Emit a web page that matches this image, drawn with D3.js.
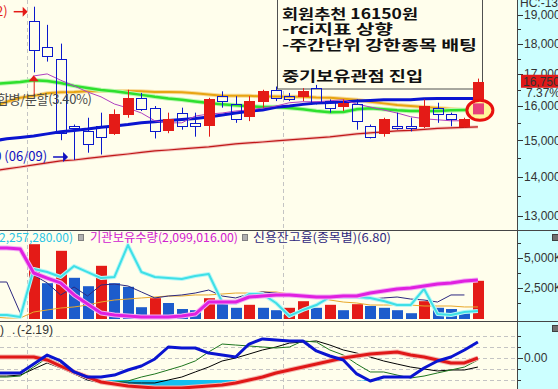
<!DOCTYPE html>
<html>
<head>
<meta charset="utf-8">
<script src="https://cdn.jsdelivr.net/npm/d3@7"></script>
<style>
  html, body { margin:0; padding:0; background:#fffeec; overflow:hidden; }
  svg { display:block; }
  .ax { font-family:"Liberation Sans", Arial, sans-serif; font-size:12px; fill:#333; }
  .kr { font-family:"Noto Sans CJK KR", sans-serif; }
</style>
</head>
<body>
<div id="mydraw"></div>
<script>

///////////////////////////////////////////////
// data

// daily candles (won), 34 sessions
var opens  = [18800,17900,17500,15400,15250,15400,15200,15750,16250,15950,15300,15800,15500,15450,16300,16050,15700,16150,16500,16300,16300,16550,16150,16000,16050,15400,15200,15400,15400,15400,15950,15750,15400,15750];
var highs  = [19300,18650,18000,15450,15650,15800,15900,16500,16400,16000,15800,15950,15800,16250,16450,16300,16300,16500,16600,16400,16550,16650,16200,16200,16200,15450,15650,15800,15650,16200,16100,15800,15650,16850];
var lows   = [17050,17400,15000,14450,14650,14600,15150,15650,15850,15050,15200,15300,15100,15100,15950,15500,15550,15950,16150,16150,16150,16050,15800,15850,15300,15050,15100,15300,15250,15350,15500,15400,15350,15700];
var closes = [17800,17600,15200,15350,14900,15100,15750,16250,15900,15250,15600,15400,15400,16200,16150,15600,16150,16450,16250,16200,16450,16100,15950,16100,15550,15100,15600,15350,15350,16000,15750,15600,15600,16750];

// volume, thousands of shares
var volumes = [6150,2900,5600,3350,2650,4350,2900,2600,900,1650,1250,750,650,1650,1250,850,1100,850,650,850,1400,850,1100,650,1150,1000,850,650,400,1400,850,750,400,3100];

// sessions where a new month starts (dashed separators)
var monthStarts = [0, 19];

// overlay lines begin 3 sessions before the first candle
var lineStart = -3;
var maShort  = [16935,17000,16800,16620,16430,16280,16060,15940,15790,15560,15500,15500,15700,15760,15790,15850,15880,15940,16000,16100,16130,16130,16160,16190,16060,15970,15880,15790,15680,15620,15590,15560,15560]; // starts at session 0
var maOrange = [15970,16130,16250,16310,16390,16420,16430,16450,16460,16460,16460,16450,16430,16430,16420,16390,16350,16310,16310,16310,16290,16290,16280,16280,16260,16250,16220,16190,16130,16080,16030,16000,15970,15940,15910,15880,15880];
var maGreen  = [16680,16710,16745,16800,16775,16710,16620,16555,16490,16450,16400,16340,16280,16230,16190,16140,16095,16050,16020,15990,15970,15970,15940,15900,15850,15810,15820,15900,15930,15900,15870,15850,15850,15850,15870,15880,15880];
var maBlue   = [14980,15040,15080,15120,15180,15240,15280,15320,15370,15410,15450,15500,15530,15570,15600,15630,15675,15730,15790,15840,15880,15960,16000,16050,16095,16110,16125,16155,16170,16190,16190,16190,16220,16230,16230,16230,16230];
var trendRed = [14155,14210,14260,14315,14370,14425,14450,14495,14535,14575,14615,14660,14700,14725,14755,14785,14810,14855,14895,14925,14950,14980,15010,15035,15065,15095,15135,15180,15210,15235,15265,15280,15310,15340,15355,15365,15380];

// volume pane overlays (thousands)
var volCyan    = [250,250,80,4080,3830,3420,4330,3830,3330,3420,6080,3830,3420,3330,3250,3500,3670,1330,1250,2000,2000,1250,170,670,1080,1750,1750,1750,1670,1420,1080,1080,2420,330,250,500,580];
var volMagenta = [5830,5830,5750,3750,3330,2920,1920,1170,420,250,170,80,80,80,170,330,1330,1330,1330,1750,1830,1920,1920,1830,1750,1750,1830,1830,2080,2250,2420,2500,2670,2830,2920,3080,3170];
var volNavy    = [3000,3000,420,3580,2920,1920,2580,1830,2750,2830,2670,2170,1670,1830,1920,2080,2330,1830,1670,2000,2170,2080,1830,1750,1750,1750,1750,1670,1580,1670,1750,1580,1500,1330,1920,1920];
var volOrange  = [80,0,0,500,670,830,920,1080,1330,1500,1580,1670,1750,1830,1830,1920,1920,2000,2080,2080,2170,2170,2000,1920,1750,1500,1330,1250,1080,1080,1080,1080,1000,1000,1000,920,920];

// bottom indicator pane
var indBlue  = [-1.36,-1.36,-1.36,-0.55,0.27,-0.27,-1.27,-1.73,-1.73,-1.55,-1.09,-0.73,-0.09,1.00,0.91,0.91,0.45,0.27,0.09,1.27,1.73,1.64,1.55,1.55,0.64,0.18,-0.18,-1.45,-2.09,-1.73,-1.73,-1.73,-0.91,-0.27,0.09,0.73,1.45];
var indRed   = [0.09,0.09,0.09,0.09,-0.18,-0.73,-1.27,-1.73,-2.18,-2.36,-2.55,-2.64,-2.73,-2.73,-2.73,-2.64,-2.55,-2.45,-2.27,-2.00,-1.73,-1.36,-1.09,-0.82,-0.55,-0.27,0.00,0.18,0.36,0.45,0.55,0.27,0.09,-0.18,-0.45,-0.45,0.00];
var indGreen = [-1.73,-1.73,-1.64,-0.82,0.00,-0.55,-1.27,-1.73,-2.18,-2.18,-2.09,-1.73,-1.45,-1.09,-0.73,-0.27,0.55,1.27,1.18,1.09,1.00,0.91,1.00,1.55,1.45,0.73,0.27,-0.55,-1.27,-1.27,-1.55,-1.82,-1.64,-1.36,-1.09,-0.82,-0.18];
var indBlack = [-1.64,-1.64,-1.55,-1.00,-0.45,-0.91,-1.45,-2.00,-2.27,-2.27,-2.27,-2.27,-2.27,-2.00,-1.73,-1.27,-0.82,-0.27,0.00,0.36,0.73,1.00,1.36,1.45,1.55,1.18,0.73,0.45,0.09,-0.27,-0.55,-0.82,-1.00,-1.18,-1.09,-1.09,-0.82];
var oversold = -2;

// axis ticks
var priceTicks = [13000,14000,15000,16000,17000,18000,19000];
var priceMinor = [13500,14500,15500,16500,17500,18500];
var volTicks = [2500, 5000];
var volMinor = [1250, 3750, 6250];
var indTicks = [0];
var indMinor = [-2,-1,1,2];

// texts
var memo = ["회원추천 16150원", "-rci지표 상향", "-주간단위 강한종목 배팅", "", "중기보유관점 진입"];
var changePct = 7.37;
var splitLabel = "합병/분할(3.40%)";
var volLegend = ["(2,257,280.00)", "기관보유수량(2,099,016.00)", "신용잔고율(종목별)(6.80)"];
var indLegend = ["0)", ".", "(-2.19)"];


///////////////////////////////////////////////
// layout

var W = 558, H = 389;
var axisX = 518;
var bg = "#fffeec";
var RED = "#e41b17", BLUE = "#0a18cc", VBLUE = "#1c5ccc";

var pricePane = {top: 0, bottom: 230};
var volPane   = {top: 230, bottom: 321};
var indPane   = {top: 321, bottom: 389};

var x  = d3.scaleLinear().domain([0, 33]).range([33.7, 477.9]);
var y  = d3.scaleLog().domain([13000, 19000]).range([216, 15]);
var yv = d3.scaleLinear().domain([0, 5000]).range([318, 258]);
var yi = d3.scaleLinear().domain([-2, 2]).range([380, 336]);

var svg = d3.select("div#mydraw").append("svg")
    .attr("width", W)
    .attr("height", H);

svg.append("rect").attr("width", W).attr("height", H).attr("fill", bg);
svg.append("rect").attr("x", axisX).attr("width", W - axisX).attr("height", H).attr("fill", "#ccffff");

var defs = svg.append("defs");
[["cP", pricePane], ["cV", volPane], ["cI", indPane]].forEach(function(c) {
    defs.append("clipPath").attr("id", c[0]).append("rect")
        .attr("x", 0).attr("y", c[1].top)
        .attr("width", axisX).attr("height", c[1].bottom - c[1].top);
});

// month separators
monthStarts.forEach(function(m) {
    var mx = Math.round(x(m - 0.5)) + 0.5;
    svg.append("line")
        .attr("x1", mx).attr("x2", mx).attr("y1", 0).attr("y2", H)
        .attr("stroke", "#c4c4c4").attr("stroke-dasharray", "4,3");
});

var gP = svg.append("g").attr("clip-path", "url(#cP)");
var gV = svg.append("g").attr("clip-path", "url(#cV)");
var gI = svg.append("g").attr("clip-path", "url(#cI)");

function series(vals, start) {
    return vals.map(function(v, k) { return {i: k + start, v: v}; });
}

function drawLine(g, vals, start, sc, color, w, halo) {
    var ln = d3.line()
        .x(function(d) { return x(d.i); })
        .y(function(d) { return sc(d.v); });
    var path = ln(series(vals, start));
    if (halo) {
        g.append("path").attr("d", path).attr("fill", "none")
            .attr("stroke", halo).attr("stroke-width", w + 2).attr("stroke-linejoin", "round");
    }
    g.append("path").attr("d", path).attr("fill", "none")
        .attr("stroke", color).attr("stroke-width", w).attr("stroke-linejoin", "round");
}


// ---------------
// price pane

drawLine(gP, trendRed, lineStart, y, "#c01818", 1.2, "#f4c8c0");
drawLine(gP, maOrange, lineStart, y, "#e8a412", 2, "#f8dc9c");
drawLine(gP, maGreen,  lineStart, y, "#2ee02e", 2.5, "#bdf7b0");
drawLine(gP, maBlue,   lineStart, y, "#0a14d0", 3, null);
drawLine(gP, maShort,  0,         y, "#b040c0", 1, null);

// memo box
var box = gP.append("g");
box.append("rect")
    .attr("x", 277.5).attr("y", -1).attr("width", 205).attr("height", 90)
    .attr("fill", bg).attr("stroke", "#505050");
var memoY = [19, 34, 50, 65, 81];
var memoLen = [136, 111, 195, 0, 141];
memo.forEach(function(t, k) {
    if (!t) return;
    box.append("text").attr("class", "kr")
        .attr("x", 282).attr("y", memoY[k])
        .attr("font-size", 14).attr("font-weight", "bold").attr("fill", "#111")
        .attr("textLength", memoLen[k]).attr("lengthAdjust", "spacingAndGlyphs")
        .text(t);
});

// candles
var candles = opens.map(function(o, i) {
    return {i: i, o: o, h: highs[i], l: lows[i], c: closes[i]};
});
candles.forEach(function(d) {
    var cx = Math.round(x(d.i));
    var up = d.c >= d.o;
    var col = up ? RED : BLUE;
    var top = Math.round(y(Math.max(d.o, d.c)));
    var bot = Math.round(y(Math.min(d.o, d.c)));
    gP.append("line")
        .attr("x1", cx + 0.5).attr("x2", cx + 0.5)
        .attr("y1", y(d.h)).attr("y2", top)
        .attr("stroke", col);
    gP.append("line")
        .attr("x1", cx + 0.5).attr("x2", cx + 0.5)
        .attr("y1", bot).attr("y2", y(d.l))
        .attr("stroke", col);
    if (up) {
        gP.append("rect")
            .attr("x", cx - 5).attr("y", top)
            .attr("width", 11).attr("height", Math.max(2, bot - top + 1))
            .attr("fill", col);
    } else {
        gP.append("rect")
            .attr("x", cx - 4.5).attr("y", top + 0.5)
            .attr("width", 10).attr("height", Math.max(1, bot - top))
            .attr("fill", "none").attr("stroke", col);
    }
});

// highlight on the last session
var last = candles[candles.length - 1];
var hx = x(last.i) + 2, hy = y(last.o) - 4;
gP.append("ellipse")
    .attr("cx", hx).attr("cy", hy).attr("rx", 13).attr("ry", 10)
    .attr("fill", "#fff59a").attr("stroke", "#e81010").attr("stroke-width", 3);
gP.append("rect")
    .attr("x", Math.round(x(last.i)) - 5).attr("y", hy - 7)
    .attr("width", 11).attr("height", y(last.o) - hy + 7)
    .attr("fill", "#e8407a");

// high / low markers
var iHigh = d3.maxIndex(highs), iLow = d3.minIndex(lows);
var hiY = y(highs[iHigh]) + 5, loY = y(lows[iLow]) - 3;
gP.append("text").attr("class", "kr")
    .attr("x", x(iHigh) - 26).attr("y", hiY + 4).attr("text-anchor", "end")
    .attr("font-size", 13).attr("fill", RED)
    .text(d3.format(",")(highs[iHigh]) + " (06/02)");
gP.append("line")
    .attr("x1", x(iHigh) - 20).attr("x2", x(iHigh) - 9)
    .attr("y1", hiY).attr("y2", hiY).attr("stroke", RED).attr("stroke-width", 1.5);
gP.append("path")
    .attr("d", "M" + (x(iHigh) - 6) + "," + hiY + " l-5,-5 l0,10 z").attr("fill", RED);

gP.append("text").attr("class", "kr")
    .attr("x", x(iLow) - 27).attr("y", loY + 4).attr("text-anchor", "end")
    .attr("font-size", 13).attr("fill", "#1010c0")
    .text(d3.format(",")(lows[iLow]) + " (06/09)");
gP.append("line")
    .attr("x1", x(iLow) - 21).attr("x2", x(iLow) - 10)
    .attr("y1", loY).attr("y2", loY).attr("stroke", "#1010c0").attr("stroke-width", 1.5);
gP.append("path")
    .attr("d", "M" + (x(iLow) - 6) + "," + loY + " l-5,-5 l0,10 z").attr("fill", "#1010c0");

// split / merge marker under the first session
var sy = y(lows[0]) + 3;
gP.append("path")
    .attr("d", "M" + x(0) + "," + sy + " l-5,6 l10,0 z").attr("fill", RED);
gP.append("line")
    .attr("x1", x(0) + 0.5).attr("x2", x(0) + 0.5)
    .attr("y1", sy + 6).attr("y2", sy + 21).attr("stroke", RED);
gP.append("text").attr("class", "kr")
    .attr("x", -3).attr("y", 104)
    .attr("font-size", 13).attr("fill", "#4a4a4a")
    .attr("textLength", 95).attr("lengthAdjust", "spacing")
    .text(splitLabel);


// ---------------
// volume pane

volumes.forEach(function(v, i) {
    var upVol = i === 0 || v >= volumes[i - 1];
    gV.append("rect")
        .attr("x", Math.round(x(i)) - 5).attr("y", yv(v))
        .attr("width", 11).attr("height", yv(0) - yv(v) + 1)
        .attr("fill", upVol ? RED : VBLUE);
});

drawLine(gV, volOrange,  lineStart, yv, "#e8a82a", 1, null);
drawLine(gV, volNavy,    lineStart, yv, "#2c2880", 1, null);
drawLine(gV, volCyan,    lineStart, yv, "#3ee0e6", 2, "#b8f6f6");
drawLine(gV, volMagenta, lineStart, yv, "#e020e0", 3, "#f2b0f2");

var legY = 242;
svg.append("text").attr("class", "kr")
    .attr("x", 73).attr("y", legY).attr("text-anchor", "end")
    .attr("font-size", 12).attr("fill", "#28c4e4")
    .text(volLegend[0]);
[78, 242].forEach(function(sx) {
    svg.append("rect").attr("x", sx + 0.5).attr("y", 234.5).attr("width", 5).attr("height", 6)
        .attr("fill", "#b0b0b0").attr("stroke", "#808080");
});
svg.append("text").attr("class", "kr")
    .attr("x", 90).attr("y", legY).attr("font-size", 12).attr("fill", "#d020d0")
    .attr("textLength", 148).attr("lengthAdjust", "spacingAndGlyphs")
    .text(volLegend[1]);
svg.append("text").attr("class", "kr")
    .attr("x", 253).attr("y", legY).attr("font-size", 12).attr("fill", "#302880")
    .attr("textLength", 138).attr("lengthAdjust", "spacingAndGlyphs")
    .text(volLegend[2]);


// ---------------
// indicator pane

[-2, -1, 0, 1, 2].forEach(function(v) {
    var gy = Math.round(yi(v)) + 0.5;
    gI.append("line").attr("x1", 0).attr("x2", axisX).attr("y1", gy).attr("y2", gy)
        .attr("stroke", "#c4c4c4").attr("stroke-dasharray", "4,3");
});

// oversold fill
var area = d3.area()
    .x(function(d) { return x(d.i); })
    .y0(yi(oversold))
    .y1(function(d) { return yi(Math.min(d.v, oversold)); });
[indRed, indBlack, indBlue].forEach(function(s) {
    gI.append("path").attr("d", area(series(s, lineStart)))
        .attr("fill", "#12c0f0");
});

drawLine(gI, indBlack, lineStart, yi, "#000000", 1, null);
drawLine(gI, indGreen, lineStart, yi, "#1e761e", 1, null);
drawLine(gI, indRed,   lineStart, yi, "#e01818", 3, "#f4b8b0");
drawLine(gI, indBlue,  lineStart, yi, "#0a14d0", 3, null);

svg.append("text").attr("class", "ax")
    .attr("x", 4).attr("y", 334).attr("text-anchor", "end").attr("fill", "#2020a0")
    .text(indLegend[0]);
svg.append("text").attr("class", "ax")
    .attr("x", 12).attr("y", 334).attr("fill", "#333")
    .text(indLegend[1]);
svg.append("text").attr("class", "ax")
    .attr("x", 17).attr("y", 334).attr("fill", "#c81818")
    .attr("textLength", 36).attr("lengthAdjust", "spacingAndGlyphs")
    .text(indLegend[2]);


// ---------------
// right axis

var ax = svg.append("g");
function tickMarks(vals, sc, len) {
    vals.forEach(function(v) {
        var ty = Math.round(sc(v)) + 0.5;
        ax.append("line").attr("x1", axisX).attr("x2", axisX + len)
            .attr("y1", ty).attr("y2", ty).attr("stroke", "#333");
    });
}
function tickLabels(vals, sc, fmt) {
    vals.forEach(function(v) {
        ax.append("text").attr("class", "ax")
            .attr("x", axisX + 6).attr("y", sc(v)).attr("dy", "0.36em")
            .text(fmt(v));
    });
}
tickMarks(priceTicks, y, 5);
tickMarks(priceMinor, y, 3);
tickLabels(priceTicks, y, d3.format(","));
tickMarks(volTicks, yv, 5);
tickMarks(volMinor, yv, 3);
tickLabels(volTicks, yv, function(v) { return d3.format(",")(v) + "K"; });
tickMarks(indTicks, yi, 5);
tickMarks(indMinor, yi, 3);
tickLabels(indTicks, yi, d3.format(".2f"));

// current price tag
var cy = y(last.c);
ax.append("rect").attr("x", axisX + 3).attr("y", cy - 7).attr("width", 40).attr("height", 13)
    .attr("fill", "#e01818");
ax.append("text").attr("class", "ax")
    .attr("x", axisX + 5).attr("y", cy).attr("dy", "0.36em").attr("fill", "#ffffff")
    .text(d3.format(",")(last.c));
ax.append("text").attr("class", "ax")
    .attr("x", axisX + 8).attr("y", cy + 11).attr("dy", "0.36em").attr("fill", "#e01818")
    .attr("font-size", 11)
    .text(d3.format(".2f")(changePct) + "%");

ax.append("text").attr("class", "ax")
    .attr("x", axisX + 2).attr("y", 7).attr("fill", "#0000c0")
    .text("HC:-13");

// pane separators and axis line
[volPane.top, indPane.top].forEach(function(sy) {
    svg.append("line").attr("x1", 0).attr("x2", W).attr("y1", sy + 0.5).attr("y2", sy + 0.5)
        .attr("stroke", "#454545");
});
svg.append("line").attr("x1", axisX - 0.5).attr("x2", axisX - 0.5).attr("y1", 0).attr("y2", H)
    .attr("stroke", "#454545");

// pane close icons
[volPane.top + 4, indPane.top + 4].forEach(function(iy) {
    svg.append("rect").attr("x", 552.5).attr("y", iy + 0.5).attr("width", 6).attr("height", 6)
        .attr("fill", "#707070").attr("stroke", "#404040");
});

</script>
</body>
</html>
